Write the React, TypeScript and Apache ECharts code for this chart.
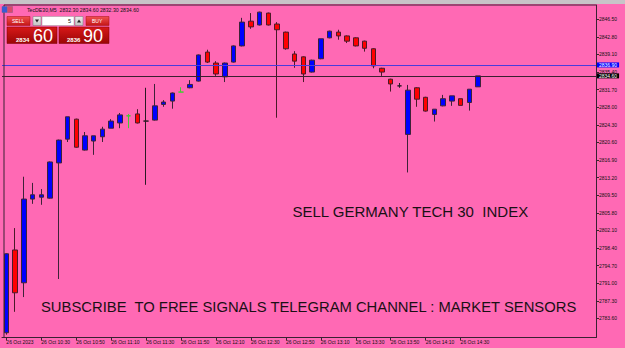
import React, { useEffect, useRef } from 'react';
import * as echarts from 'echarts';

// ---- data ----
const times = [
  '10:10', '10:15', '10:20', '10:25', '10:30', '10:35', '10:40', '10:45', '10:50', '10:55',
  '11:00', '11:05', '11:10', '11:15', '11:20', '11:25', '11:30', '11:35', '11:40', '11:45',
  '11:50', '11:55', '12:00', '12:05', '12:10', '12:15', '12:20', '12:25', '12:30', '12:35',
  '12:40', '12:45', '12:50', '12:55', '13:00', '13:05', '13:10', '13:15', '13:20', '13:25',
  '13:30', '13:35', '13:40', '13:45', '13:50', '13:55', '14:00', '14:05', '14:10', '14:15',
  '14:20', '14:25', '14:30', '14:35', '14:40',
];
// empty future slots (chart shift area)
const futureTimes = ['14:45', '14:50', '14:55', '15:00', '15:05', '15:10', '15:15', '15:20', '15:25', '15:30', '15:35', '15:40', '15:45'];

const opens = [
  2780.6, 2798.0, 2791.1, 2808.7, 2809.1, 2808.9, 2816.3, 2821.3, 2825.5, 2819.0,
  2820.9, 2821.8, 2823.6, 2824.7, 2826.2, 2826.6, 2825.1, 2825.3, 2828.6, 2829.3,
  2831.2, 2832.1, 2833.5, 2839.6, 2837.3, 2834.4, 2837.5, 2840.9, 2846.1, 2845.3,
  2847.8, 2845.5, 2843.8, 2839.2, 2838.6, 2835.4, 2838.2, 2842.6, 2843.8, 2843.0,
  2842.6, 2841.9, 2840.3, 2836.2, 2833.9, 2832.5, 2822.3, 2832.1, 2830.1, 2826.5,
  2828.3, 2829.3, 2829.8, 2829.0, 2832.3,
];
const highs = [
  2797.3, 2802.6, 2813.4, 2812.1, 2810.8, 2816.6, 2821.2, 2826.0, 2825.6, 2822.8,
  2822.0, 2823.9, 2825.5, 2826.8, 2826.6, 2827.6, 2832.1, 2832.9, 2829.5, 2831.1,
  2832.2, 2833.7, 2839.1, 2840.1, 2837.7, 2837.4, 2841.0, 2846.8, 2847.8, 2848.1,
  2847.9, 2845.9, 2843.9, 2839.8, 2838.7, 2838.0, 2842.4, 2844.1, 2844.3, 2843.1,
  2842.7, 2842.0, 2840.4, 2836.3, 2834.0, 2833.1, 2832.7, 2832.2, 2830.2, 2827.6,
  2830.6, 2830.4, 2829.8, 2831.8, 2834.6,
];
const lows = [
  2780.2, 2785.0, 2788.1, 2807.7, 2807.5, 2808.8, 2791.9, 2820.7, 2819.5, 2818.9,
  2818.0, 2820.7, 2823.6, 2823.6, 2823.6, 2824.6, 2811.7, 2825.2, 2828.1, 2827.7,
  2831.2, 2832.0, 2833.4, 2837.3, 2834.6, 2833.3, 2837.4, 2840.8, 2844.5, 2845.2,
  2845.2, 2825.8, 2840.1, 2836.3, 2833.3, 2835.3, 2838.1, 2842.5, 2842.2, 2841.5,
  2840.8, 2839.7, 2836.2, 2834.6, 2831.3, 2832.1, 2814.3, 2828.1, 2827.1, 2825.0,
  2828.2, 2828.3, 2828.4, 2827.3, 2832.3,
];
const closes = [
  2797.2, 2789.0, 2808.7, 2809.6, 2809.6, 2816.5, 2821.1, 2826.0, 2819.6, 2822.0,
  2822.0, 2823.4, 2825.1, 2826.4, 2826.2, 2824.7, 2825.1, 2828.3, 2829.1, 2831.0,
  2831.2, 2832.8, 2839.0, 2837.5, 2835.0, 2837.3, 2840.9, 2845.9, 2844.9, 2848.0,
  2845.3, 2844.3, 2840.3, 2837.7, 2835.0, 2837.9, 2842.4, 2844.0, 2843.0, 2841.9,
  2840.9, 2840.4, 2836.7, 2835.4, 2832.9, 2832.5, 2831.6, 2829.7, 2827.2, 2827.6,
  2829.8, 2830.4, 2828.4, 2831.8, 2834.6,
];
const greenDojis = [14, 20];
const darkDojis = [16, 45];

const yTickValues = [
  2783.6, 2787.3, 2791.0, 2794.7, 2798.4, 2802.1, 2805.8, 2809.5, 2813.2,
  2816.9, 2820.6, 2824.3, 2828.0, 2831.7, 2835.4, 2839.1, 2842.8, 2846.5,
];
const yMin = 2779.6;
const yMax = 2849.5;

const bid = 2834.6;
const ask = 2836.9;
const symbol = 'TecDE30,M5';
const dateText = '26 Oct';
const firstLabel = '26 Oct 2023';
const lotSize = '5';
const headline = 'SELL GERMANY TECH 30  INDEX';
const footer = 'SUBSCRIBE  TO FREE SIGNALS TELEGRAM CHANNEL : MARKET SENSORS';

const FONT = 'Liberation Sans, Arial, sans-serif';
const FRAME = '#3a2232';

export default function App() {
  const ref = useRef<HTMLDivElement>(null);

  useEffect(() => {
    document.body.style.margin = '0';
    if (!ref.current) return;
    const chart = echarts.init(ref.current, undefined, { renderer: 'svg' });

    const categories = [...times, ...futureTimes];
    const last = times.length - 1;
    const f2 = (v: number) => v.toFixed(2);
    const header = `${symbol}  ${f2(opens[last])} ${f2(highs[last])} ${f2(lows[last])} ${f2(closes[last])}`;

    const candleData = times.map((_, i) => {
      const value = [opens[i], closes[i], lows[i], highs[i]];
      if (greenDojis.includes(i)) {
        return { value, itemStyle: { borderColor: '#44cc33', borderColor0: '#44cc33', borderColorDoji: '#44cc33' } };
      }
      if (darkDojis.includes(i)) {
        return { value, itemStyle: { borderColor: '#2a1a24', borderColor0: '#2a1a24', borderColorDoji: '#2a1a24' } };
      }
      return value;
    });

    const showIdx = (index: number) => index % 4 === 0 && index <= last;

    const bidParts = f2(bid).split('.');
    const askParts = f2(ask).split('.');

    const txt = (text: string, x: number, y: number, fontSize: number, fill: string, align = 'left', fontWeight = 'normal') => ({
      type: 'text',
      z: 100,
      style: {
        text, x, y, fill, fontSize, fontFamily: FONT, fontWeight,
        align, verticalAlign: 'middle', textAlign: align, textVerticalAlign: 'middle',
      },
    });

    const redGrad = () => new echarts.graphic.LinearGradient(0, 0, 0, 1, [
      { offset: 0, color: '#f25050' },
      { offset: 1, color: '#c41616' },
    ]);
    const darkRedGrad = () => new echarts.graphic.LinearGradient(0, 0, 0, 1, [
      { offset: 0, color: '#d81818' },
      { offset: 1, color: '#9a0606' },
    ]);
    const grayGrad = () => new echarts.graphic.LinearGradient(0, 0, 0, 1, [
      { offset: 0, color: '#ececec' },
      { offset: 1, color: '#c4c4c4' },
    ]);

    const graphics: any[] = [
      { type: 'rect', z: 100, shape: { x: 0, y: 0, width: 625, height: 4 }, style: { fill: '#c8c4c8' } },
      { type: 'line', z: 100, shape: { x1: 4, y1: 5, x2: 596, y2: 5 }, style: { stroke: FRAME, lineWidth: 1 } },
      { type: 'line', z: 100, shape: { x1: 4, y1: 5, x2: 4, y2: 337.5 }, style: { stroke: FRAME, lineWidth: 1 } },
      // icon
      { type: 'rect', z: 100, shape: { x: 2, y: 6.5, width: 5, height: 6 }, style: { fill: '#3a5ad8', stroke: '#5a6a9a', lineWidth: 0.5 } },
      { type: 'rect', z: 100, shape: { x: 7.5, y: 6.5, width: 5, height: 6 }, style: { fill: '#d84a6a', stroke: '#8a5a7a', lineWidth: 0.5 } },
      txt(header, 27, 10, 5.2, '#111111'),
      // one-click panel
      { type: 'rect', z: 100, shape: { x: 7, y: 16.5, width: 23, height: 9 }, style: { fill: redGrad(), stroke: '#a01010', lineWidth: 0.5 } },
      txt('SELL', 12, 21, 5, '#ffffff'),
      { type: 'rect', z: 100, shape: { x: 33, y: 16.5, width: 8, height: 9 }, style: { fill: grayGrad(), stroke: '#777777', lineWidth: 0.5 } },
      { type: 'polygon', z: 101, shape: { points: [[35, 19.5], [39, 19.5], [37, 22.5]] }, style: { fill: '#222222' } },
      { type: 'rect', z: 100, shape: { x: 42, y: 16.5, width: 32, height: 9 }, style: { fill: '#ffffff', stroke: '#999999', lineWidth: 0.5 } },
      txt(lotSize, 71, 21, 5.5, '#111111', 'right'),
      { type: 'rect', z: 100, shape: { x: 75, y: 16.5, width: 8, height: 9 }, style: { fill: grayGrad(), stroke: '#777777', lineWidth: 0.5 } },
      { type: 'polygon', z: 101, shape: { points: [[77, 22.5], [81, 22.5], [79, 19.5]] }, style: { fill: '#222222' } },
      { type: 'rect', z: 100, shape: { x: 86, y: 16.5, width: 23, height: 9 }, style: { fill: redGrad(), stroke: '#a01010', lineWidth: 0.5 } },
      txt('BUY', 92, 21, 5, '#ffffff'),
      { type: 'rect', z: 100, shape: { x: 7, y: 27, width: 50, height: 16.5 }, style: { fill: darkRedGrad(), stroke: '#7a0000', lineWidth: 0.5 } },
      txt(bidParts[0], 16, 39.5, 6, '#ffffff', 'left', 'bold'),
      txt(bidParts[1], 33, 35.5, 18, '#ffffff'),
      { type: 'rect', z: 100, shape: { x: 59, y: 27, width: 50, height: 16.5 }, style: { fill: darkRedGrad(), stroke: '#7a0000', lineWidth: 0.5 } },
      txt(askParts[0], 67, 39.5, 6, '#ffffff', 'left', 'bold'),
      txt(askParts[1], 83, 35.5, 18, '#ffffff'),
      // overlay texts
      txt(headline, 292.5, 211, 15, '#1a1014'),
      txt(footer, 41, 307, 14.8, '#1a1014'),
    ];

    chart.setOption({
      animation: false,
      backgroundColor: '#ff69b4',
      grid: { left: 2, right: 29, top: 5, bottom: 10.5, containLabel: false, outerBoundsMode: 'none' },
      xAxis: {
        type: 'category',
        data: categories,
        boundaryGap: true,
        axisLine: { show: true, lineStyle: { color: FRAME, width: 1 } },
        axisTick: { show: true, alignWithLabel: true, interval: (index: number) => showIdx(index), length: 3, lineStyle: { color: FRAME } },
        axisLabel: {
          interval: (index: number) => showIdx(index),
          formatter: (value: string, index: number) => (index === 0 ? firstLabel : `${dateText} ${value}`),
          align: 'left',
          margin: 2,
          fontSize: 5,
          fontFamily: FONT,
          color: '#111111',
        },
        splitLine: { show: false },
      },
      yAxis: {
        type: 'value',
        position: 'right',
        min: yMin,
        max: yMax,
        scale: true,
        axisLine: { show: true, lineStyle: { color: FRAME, width: 1 } },
        axisTick: { show: true, customValues: yTickValues, length: 3, lineStyle: { color: FRAME } },
        axisLabel: {
          customValues: yTickValues,
          formatter: (v: number) => v.toFixed(2),
          margin: 3,
          fontSize: 5,
          lineHeight: 4,
          fontFamily: FONT,
          color: '#111111',
        },
        splitLine: { show: false },
      },
      series: [
        {
          type: 'candlestick',
          data: candleData,
          barWidth: 5,
          itemStyle: {
            color: '#0000ff',
            color0: '#ff0000',
            borderColor: '#3e2238',
            borderColor0: '#4a1a28',
            borderWidth: 1,
          },
          markLine: {
            silent: true,
            symbol: 'none',
            animation: false,
            data: [
              {
                yAxis: ask,
                lineStyle: { color: '#4a3cdc', type: 'solid', width: 1 },
                label: { show: true, position: 'end', distance: 1, formatter: () => f2(ask), color: '#ffffff', backgroundColor: '#0000ff', fontSize: 5, fontFamily: FONT, padding: [0, 2], lineHeight: 5 },
              },
              {
                yAxis: bid,
                lineStyle: { color: '#3a2030', type: 'solid', width: 1 },
                label: { show: true, position: 'end', distance: 1, formatter: () => f2(bid), color: '#ffffff', backgroundColor: '#000000', fontSize: 5, fontFamily: FONT, padding: [0, 2], lineHeight: 5 },
              },
            ],
          },
        },
      ],
      graphic: graphics,
    });

    return () => chart.dispose();
  }, []);

  return <div ref={ref} style={{ width: 625, height: 348 }} />;
}
